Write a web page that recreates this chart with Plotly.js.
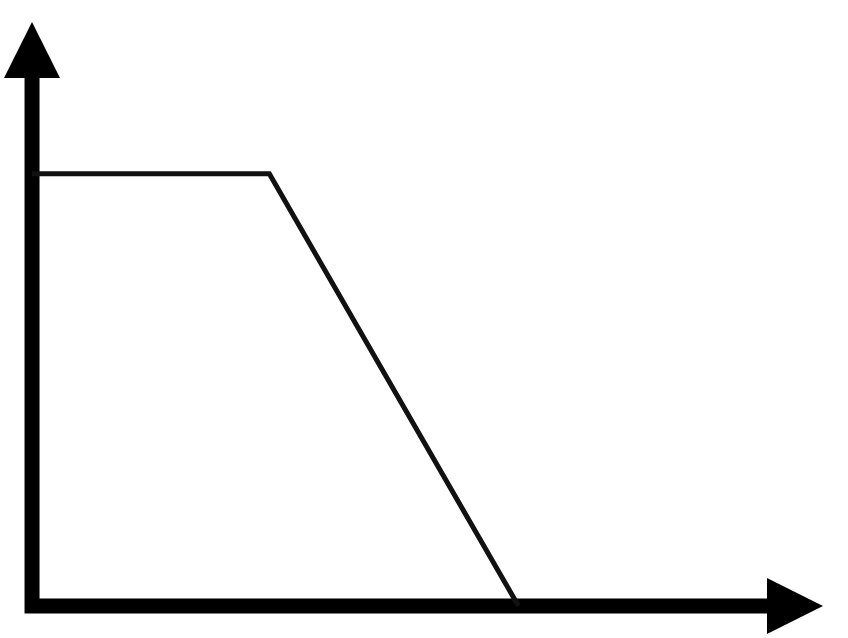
<!DOCTYPE html>
<html>
<head>
<meta charset="utf-8">
<script src="https://cdn.plot.ly/plotly-3.0.1.min.js"></script>
<style>
  html, body { margin: 0; padding: 0; background: #fff; }
  #myDiv { width: 848px; height: 638px; }
</style>
</head>
<body>
<div id="myDiv"></div>
<script>
// the curve: flat, then falling to zero
var curveX = [0, 3.0, 6.15];
var curveY = [7.4, 7.4, 0];

// axis lines (x end, corner, y end) and arrow tips
var axisX = [9.4, 0, 0];
var axisY = [0, 0, 9.2];
var tipX = [10, 0];
var tipY = [0, 10];
var tipSymbols = ['arrow-right', 'arrow-up'];

var axes = {
  x: axisX,
  y: axisY,
  mode: 'lines',
  line: { color: '#000', width: 15 },
  hoverinfo: 'skip'
};

var arrows = {
  x: tipX,
  y: tipY,
  mode: 'markers',
  marker: { symbol: tipSymbols, size: 56, color: '#000', line: { width: 0 } },
  cliponaxis: false,
  hoverinfo: 'skip'
};

var curve = {
  x: curveX,
  y: curveY,
  mode: 'lines',
  line: { color: '#111', width: 5 },
  hoverinfo: 'skip'
};

var data = [axes, curve, arrows];

var layout = {
  width: 848,
  height: 638,
  margin: { l: 0, r: 0, t: 0, b: 0 },
  paper_bgcolor: '#fff',
  plot_bgcolor: '#fff',
  showlegend: false,
  xaxis: { visible: false, range: [-0.405, 10.316], fixedrange: true },
  yaxis: { visible: false, range: [-0.548, 10.377], fixedrange: true }
};

Plotly.newPlot('myDiv', data, layout, { displayModeBar: false, staticPlot: true });
</script>
</body>
</html>
